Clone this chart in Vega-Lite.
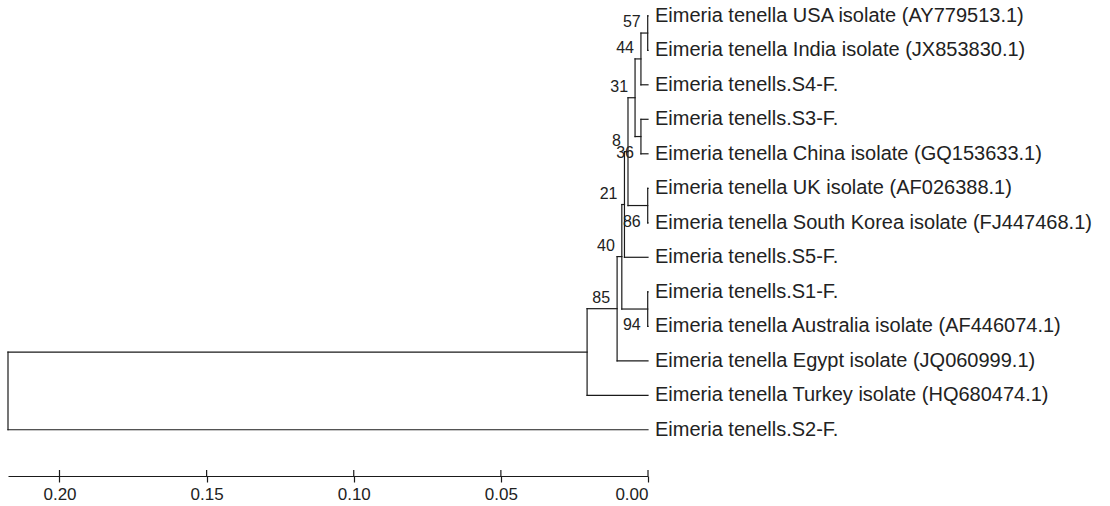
{
  "$schema": "https://vega.github.io/schema/vega-lite/v6.json",
  "width": 640,
  "height": 474,
  "autosize": {"type": "none"},
  "padding": {"left": 8, "top": 2, "right": 462, "bottom": 30},
  "background": "white",
  "config": {"view": {"stroke": null}, "font": "Liberation Sans"},
  "datasets": {
    "segments": [
      {"x1": 0.0001, "x2": 0, "y1": 0, "y2": 0},
      {"x1": 0.0001, "x2": 0, "y1": 1, "y2": 1},
      {"x1": 0.0024, "x2": 0, "y1": 2, "y2": 2},
      {"x1": 0.0024, "x2": 0, "y1": 3, "y2": 3},
      {"x1": 0.0024, "x2": 0, "y1": 4, "y2": 4},
      {"x1": 0.0001, "x2": 0, "y1": 5, "y2": 5},
      {"x1": 0.0001, "x2": 0, "y1": 6, "y2": 6},
      {"x1": 0.0080, "x2": 0, "y1": 7, "y2": 7},
      {"x1": 0.0001, "x2": 0, "y1": 8, "y2": 8},
      {"x1": 0.0001, "x2": 0, "y1": 9, "y2": 9},
      {"x1": 0.0105, "x2": 0, "y1": 10, "y2": 10},
      {"x1": 0.0207, "x2": 0, "y1": 11, "y2": 11},
      {"x1": 0.2175, "x2": 0, "y1": 12, "y2": 12},
      {"x1": 0.0024, "x2": 0.0001, "y1": 0.5, "y2": 0.5},
      {"x1": 0.0044, "x2": 0.0024, "y1": 1.25, "y2": 1.25},
      {"x1": 0.0044, "x2": 0.0024, "y1": 3.5, "y2": 3.5},
      {"x1": 0.0068, "x2": 0.0044, "y1": 2.375, "y2": 2.375},
      {"x1": 0.0068, "x2": 0.0001, "y1": 5.5, "y2": 5.5},
      {"x1": 0.0080, "x2": 0.0068, "y1": 3.9375, "y2": 3.9375},
      {"x1": 0.0089, "x2": 0.0080, "y1": 5.47, "y2": 5.47},
      {"x1": 0.0089, "x2": 0.0001, "y1": 8.5, "y2": 8.5},
      {"x1": 0.0105, "x2": 0.0089, "y1": 6.98, "y2": 6.98},
      {"x1": 0.0207, "x2": 0.0105, "y1": 8.49, "y2": 8.49},
      {"x1": 0.2175, "x2": 0.0207, "y1": 9.75, "y2": 9.75},
      {"x1": 0.0001, "x2": 0.0001, "y1": 0, "y2": 1},
      {"x1": 0.0024, "x2": 0.0024, "y1": 0.5, "y2": 2},
      {"x1": 0.0024, "x2": 0.0024, "y1": 3, "y2": 4},
      {"x1": 0.0044, "x2": 0.0044, "y1": 1.25, "y2": 3.5},
      {"x1": 0.0001, "x2": 0.0001, "y1": 5, "y2": 6},
      {"x1": 0.0068, "x2": 0.0068, "y1": 2.375, "y2": 5.5},
      {"x1": 0.0080, "x2": 0.0080, "y1": 3.9375, "y2": 7},
      {"x1": 0.0001, "x2": 0.0001, "y1": 8, "y2": 9},
      {"x1": 0.0089, "x2": 0.0089, "y1": 5.47, "y2": 8.5},
      {"x1": 0.0105, "x2": 0.0105, "y1": 6.98, "y2": 10},
      {"x1": 0.0207, "x2": 0.0207, "y1": 8.49, "y2": 11},
      {"x1": 0.2175, "x2": 0.2175, "y1": 9.75, "y2": 12}
    ],
    "leaves": [
      {"row": 0, "name": "Eimeria tenella USA isolate (AY779513.1)"},
      {"row": 1, "name": "Eimeria tenella India isolate (JX853830.1)"},
      {"row": 2, "name": "Eimeria tenells.S4-F."},
      {"row": 3, "name": "Eimeria tenells.S3-F."},
      {"row": 4, "name": "Eimeria tenella China isolate (GQ153633.1)"},
      {"row": 5, "name": "Eimeria tenella UK isolate (AF026388.1)"},
      {"row": 6, "name": "Eimeria tenella South Korea isolate (FJ447468.1)"},
      {"row": 7, "name": "Eimeria tenells.S5-F."},
      {"row": 8, "name": "Eimeria tenells.S1-F."},
      {"row": 9, "name": "Eimeria tenella Australia isolate (AF446074.1)"},
      {"row": 10, "name": "Eimeria tenella Egypt isolate (JQ060999.1)"},
      {"row": 11, "name": "Eimeria tenella Turkey isolate (HQ680474.1)"},
      {"row": 12, "name": "Eimeria tenells.S2-F."}
    ],
    "bootstrap": [
      {"node": "A", "d": 0.0001, "y": 0.5, "bs": "57", "pos": "above"},
      {"node": "B", "d": 0.0024, "y": 1.25, "bs": "44", "pos": "above"},
      {"node": "D", "d": 0.0044, "y": 2.375, "bs": "31", "pos": "above"},
      {"node": "F", "d": 0.0068, "y": 3.9375, "bs": "8", "pos": "above"},
      {"node": "C", "d": 0.0024, "y": 3.5, "bs": "36", "pos": "below"},
      {"node": "V", "d": 0.0080, "y": 5.47, "bs": "21", "pos": "above"},
      {"node": "E", "d": 0.0001, "y": 5.5, "bs": "86", "pos": "below"},
      {"node": "W", "d": 0.0089, "y": 6.98, "bs": "40", "pos": "above"},
      {"node": "G", "d": 0.0001, "y": 8.5, "bs": "94", "pos": "below"},
      {"node": "Y", "d": 0.0105, "y": 8.49, "bs": "85", "pos": "above"}
    ],
    "ticks": [
      {"t": 0}, {"t": 0.05}, {"t": 0.1}, {"t": 0.15}, {"t": 0.2}
    ]
  },
  "layer": [
    {
      "data": {"name": "segments"},
      "mark": {"type": "rule", "color": "#1a1a1a", "strokeWidth": 1.2, "strokeCap": "square"},
      "encoding": {
        "x": {
          "field": "x1", "type": "quantitative",
          "scale": {"domain": [0, 0.2175], "reverse": true, "nice": false, "zero": false},
          "axis": {
            "values": [0, 0.05, 0.1, 0.15, 0.2], "format": ".2f", "title": null, "grid": false,
            "tickSize": 6, "tickWidth": 1.2, "tickColor": "#1a1a1a",
            "domainColor": "#1a1a1a", "domainWidth": 1.2,
            "labelFontSize": 17, "labelColor": "#222222", "labelPadding": 4, "labelFont": "Liberation Sans"
          }
        },
        "x2": {"field": "x2"},
        "y": {
          "field": "y1", "type": "quantitative",
          "scale": {"domain": [-0.4, 13.34], "reverse": true, "nice": false, "zero": false},
          "axis": null
        },
        "y2": {"field": "y2"}
      }
    },
    {
      "data": {"name": "ticks"},
      "mark": {"type": "rule", "color": "#1a1a1a", "strokeWidth": 1.2},
      "encoding": {
        "x": {"field": "t", "type": "quantitative", "scale": {"domain": [0, 0.2175], "reverse": true, "nice": false, "zero": false}},
        "y": {"datum": 13.166, "type": "quantitative", "scale": {"domain": [-0.4, 13.34], "reverse": true, "nice": false, "zero": false}},
        "y2": {"datum": 13.34}
      }
    },
    {
      "data": {"name": "leaves"},
      "mark": {"type": "text", "align": "left", "baseline": "middle", "dx": 7, "fontSize": 20, "color": "#222222", "font": "Liberation Sans"},
      "encoding": {
        "x": {"datum": 0, "type": "quantitative", "scale": {"domain": [0, 0.2175], "reverse": true, "nice": false, "zero": false}},
        "y": {"field": "row", "type": "quantitative", "scale": {"domain": [-0.4, 13.34], "reverse": true, "nice": false, "zero": false}},
        "text": {"field": "name"}
      }
    },
    {
      "data": {"name": "bootstrap"},
      "transform": [{"filter": "datum.pos === 'above'"}],
      "mark": {"type": "text", "align": "right", "baseline": "middle", "dx": -7, "dy": -11, "fontSize": 16, "color": "#222222", "font": "Liberation Sans"},
      "encoding": {
        "x": {"field": "d", "type": "quantitative", "scale": {"domain": [0, 0.2175], "reverse": true, "nice": false, "zero": false}},
        "y": {"field": "y", "type": "quantitative", "scale": {"domain": [-0.4, 13.34], "reverse": true, "nice": false, "zero": false}},
        "text": {"field": "bs"}
      }
    },
    {
      "data": {"name": "bootstrap"},
      "transform": [{"filter": "datum.pos === 'below'"}],
      "mark": {"type": "text", "align": "right", "baseline": "middle", "dx": -7, "dy": 16, "fontSize": 16, "color": "#222222", "font": "Liberation Sans"},
      "encoding": {
        "x": {"field": "d", "type": "quantitative", "scale": {"domain": [0, 0.2175], "reverse": true, "nice": false, "zero": false}},
        "y": {"field": "y", "type": "quantitative", "scale": {"domain": [-0.4, 13.34], "reverse": true, "nice": false, "zero": false}},
        "text": {"field": "bs"}
      }
    }
  ]
}
